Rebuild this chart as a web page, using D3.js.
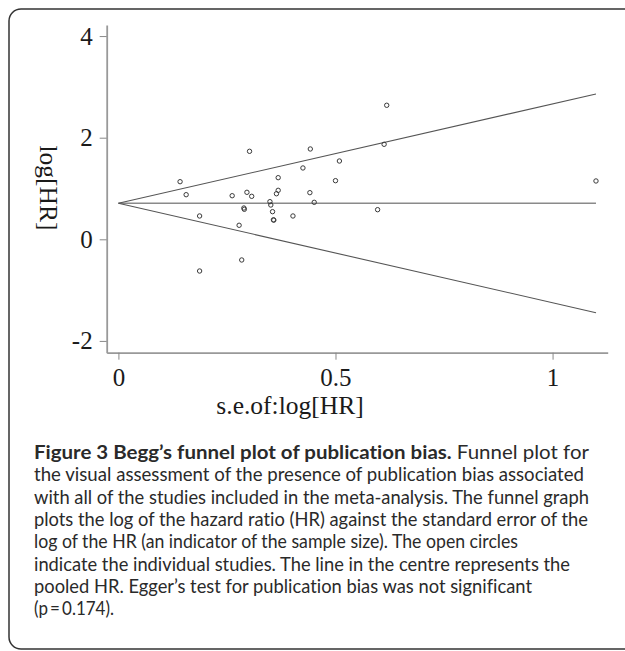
<!DOCTYPE html>
<html>
<head>
<meta charset="utf-8">
<script src="https://cdn.jsdelivr.net/npm/d3@7"></script>
<style>
  body { margin: 0; background: #fff; }
  svg { display: block; }
  .captionGroup text { font-variant-ligatures: none; }
</style>
</head>
<body>
<div id="chart"></div>
<script>
// datos
const seValues = [0.142, 0.156, 0.187, 0.187, 0.262, 0.278, 0.284, 0.289, 0.290, 0.296, 0.302, 0.307,
                  0.349, 0.351, 0.355, 0.357, 0.358, 0.364, 0.368, 0.368, 0.402, 0.425, 0.441, 0.442,
                  0.451, 0.500, 0.509, 0.597, 0.612, 0.618, 1.100]
const logHR = [1.134, 0.878, 0.459, -0.624, 0.858, 0.276, -0.407, 0.616, 0.591, 0.925, 1.732, 0.846,
               0.741, 0.675, 0.544, 0.383, 0.378, 0.897, 0.964, 1.213, 0.459, 1.404, 0.918, 1.778,
               0.728, 1.154, 1.541, 0.583, 1.870, 2.638, 1.148]

// funnel: extremos de las lineas
const funnelSe = [0, 1.10]
const funnelUpper = [0.709, 2.86]
const funnelLower = [0.709, -1.445]
const pooledLine = [0.709, 0.709]

const xTicks = [0, 0.5, 1]
const yTicks = [-2, 0, 2, 4]
const xTitle = "s.e.of:log[HR]"
const yTitle = "log[HR]"

const captionBold = "Figure 3 Begg\u2019s funnel plot of publication bias."
const captionLines = [
    " Funnel plot for",
    "the visual assessment of the presence of publication bias associated",
    "with all of the studies included in the meta-analysis. The funnel graph",
    "plots the log of the hazard ratio (HR) against the standard error of the",
    "log of the HR (an indicator of the sample size). The open circles",
    "indicate the individual studies. The line in the centre represents the",
    "pooled HR. Egger\u2019s test for publication bias was not significant",
    "(p\u2009=\u20090.174)."
]
// final de cada linea en la figura original (px)
const captionEnds = [589, 584, 589, 588, 518, 570, 532, 114]

const width = 625
const height = 651

const svg = d3.select("div#chart").append("svg").attr("width", width).attr("height", height)

// marco de la figura
svg.append("rect")
    .attr("x", 9).attr("y", 9)
    .attr("width", 660).attr("height", 640)
    .attr("rx", 12)
    .attr("fill", "none")
    .attr("stroke", "#333")
    .attr("stroke-width", 1.5)

// escalas
const x = d3.scaleLinear().domain([-0.027, 1.127]).range([106.7, 607.7])
const y = d3.scaleLinear().domain([-2.232, 4.218]).range([352.7, 25])

// ejes
const xAxis = d3.axisBottom(x).tickValues(xTicks).tickSize(7).tickSizeOuter(0).tickPadding(9).tickFormat(d => String(d))
const yAxis = d3.axisLeft(y).tickValues(yTicks).tickSize(7).tickSizeOuter(0).tickPadding(7).tickFormat(d => String(d))

const xAxisGroup = svg.append("g").attr("class", "xAxisGroup").attr("transform", `translate(0, ${y.range()[0]})`).call(xAxis)
const yAxisGroup = svg.append("g").attr("class", "yAxisGroup").attr("transform", `translate(${x.range()[0]}, 0)`).call(yAxis)

svg.selectAll(".xAxisGroup, .yAxisGroup").selectAll("path.domain")
    .attr("stroke", "#999").attr("stroke-width", 1.8)
svg.selectAll(".xAxisGroup, .yAxisGroup").selectAll(".tick line")
    .attr("stroke", "#888").attr("stroke-width", 1)
svg.selectAll(".xAxisGroup, .yAxisGroup").selectAll("text")
    .attr("font-family", "'Liberation Serif', 'Times New Roman', serif")
    .attr("font-size", 25)
    .attr("fill", "#1a1a1a")

// titulos de ejes
svg.append("text")
    .attr("x", 290).attr("y", 414)
    .attr("text-anchor", "middle")
    .attr("font-family", "'Liberation Serif', 'Times New Roman', serif")
    .attr("font-size", 25.5)
    .attr("fill", "#1a1a1a")
    .text(xTitle)

svg.append("text")
    .attr("transform", "translate(40, 188) rotate(90)")
    .attr("text-anchor", "middle")
    .attr("font-family", "'Liberation Serif', 'Times New Roman', serif")
    .attr("font-size", 25.5)
    .attr("fill", "#1a1a1a")
    .text(yTitle)

// lineas del funnel
const line = d3.line().x(d => x(d[0])).y(d => y(d[1]))
const elementGroup = svg.append("g").attr("class", "elementGroup")

elementGroup.append("path")
    .attr("d", line(d3.zip(funnelSe, pooledLine)))
    .attr("fill", "none").attr("stroke", "#8a8a8a").attr("stroke-width", 1.5)

elementGroup.selectAll("path.funnel")
    .data([funnelUpper, funnelLower])
    .enter()
    .append("path")
    .attr("class", "funnel")
    .attr("d", d => line(d3.zip(funnelSe, d)))
    .attr("fill", "none").attr("stroke", "#555").attr("stroke-width", 1.1)

// estudios
elementGroup.selectAll("circle")
    .data(d3.zip(seValues, logHR))
    .enter()
    .append("circle")
    .attr("cx", d => x(d[0]))
    .attr("cy", d => y(d[1]))
    .attr("r", 2.2)
    .attr("fill", "none")
    .attr("stroke", "#3a3a3a")
    .attr("stroke-width", 1)

// pie de figura
const captionGroup = svg.append("g").attr("class", "captionGroup")
    .attr("font-family", "Lato, 'Open Sans', sans-serif")
    .attr("font-size", 19)
    .attr("fill", "#2a2a2a")

const captionX = 34
const firstBaseline = 459
const lineStep = 22.3

captionLines.forEach((t, i) => {
    const txt = captionGroup.append("text")
        .attr("x", captionX)
        .attr("y", firstBaseline + i * lineStep)
        .attr("textLength", captionEnds[i] - captionX)
        .attr("lengthAdjust", "spacingAndGlyphs")
    if (i === 0) {
        txt.append("tspan").attr("font-weight", "bold").text(captionBold)
        txt.append("tspan").text(t)
    } else {
        txt.text(t)
    }
})
</script>
</body>
</html>
